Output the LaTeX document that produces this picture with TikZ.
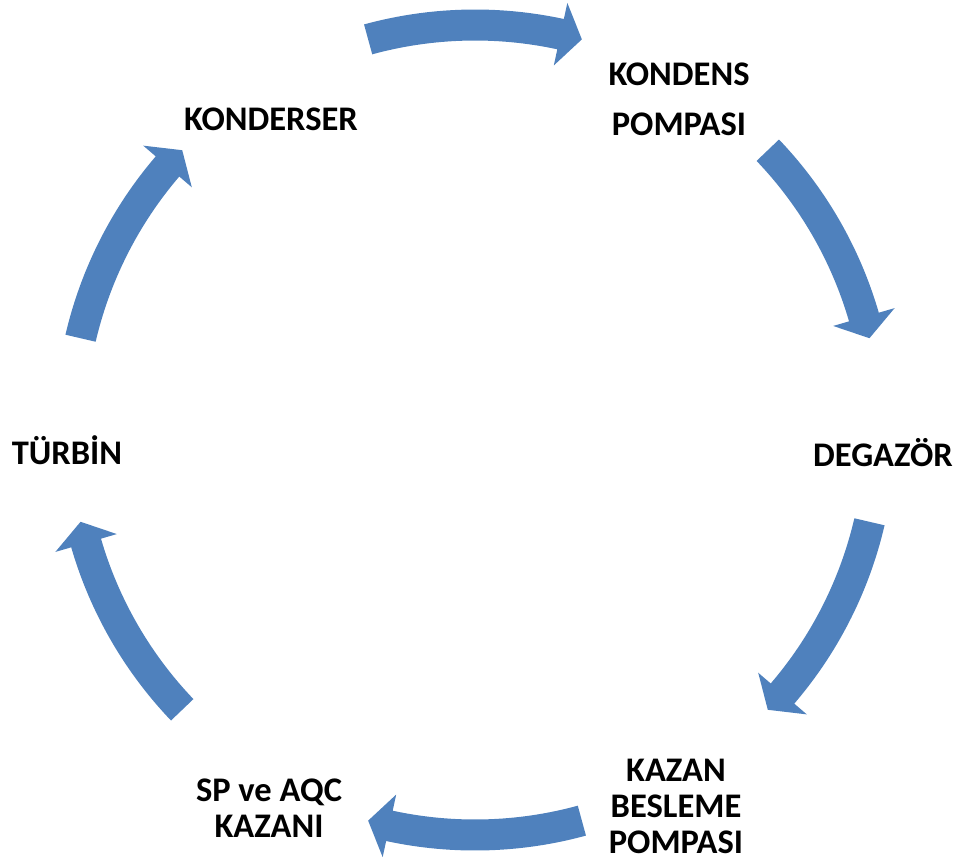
\documentclass[tikz,border=0pt]{standalone}
\usepackage{fontspec}
\setmainfont{Carlito}
\usetikzlibrary{calc}
\definecolor{arrowblue}{RGB}{79,129,189}
\begin{document}
\begin{tikzpicture}[x=1pt,y=1pt,
  lbl/.style={font=\bfseries\fontsize{34.5}{36}\selectfont, align=center, inner sep=0pt, text=black}]
\useasboundingbox (0,0) rectangle (965,-865);
\coordinate (C) at (475,-430);
\foreach \c in {90,28.4,-28.4,-90,-151.6,151.6}{
  \pgfmathsetmacro\as{\c+15.3}
  \pgfmathsetmacro\at{\c-15.3}
  \pgfmathsetmacro\ab{\c-12.2}
  \fill[arrowblue] ($(C)+(\as:420.5)$) arc[start angle=\as, end angle=\ab, radius=420.5]
    -- ($(C)+(\ab:437)$) -- ($(C)+(\at:405)$) -- ($(C)+(\ab:373)$) -- ($(C)+(\ab:389.5)$)
    arc[start angle=\ab, end angle=\as, radius=389.5] -- cycle;
}
\node[lbl] (konderser) at (271,-119) {KONDERSER};
\node[lbl] (kpompa) at (679,-99) {KONDENS\\[14pt]POMPASI};
\node[lbl] (degazor) at (883,-452.5) {DEGAZÖR};
\node[lbl] (kbp) at (676,-806) {KAZAN\\BESLEME\\POMPASI};
\node[lbl] (spaqc) at (269,-808) {SP ve AQC\\KAZANI};
\node[lbl] (turbin) at (67,-450) {TÜRBİN};
\end{tikzpicture}
\end{document}
